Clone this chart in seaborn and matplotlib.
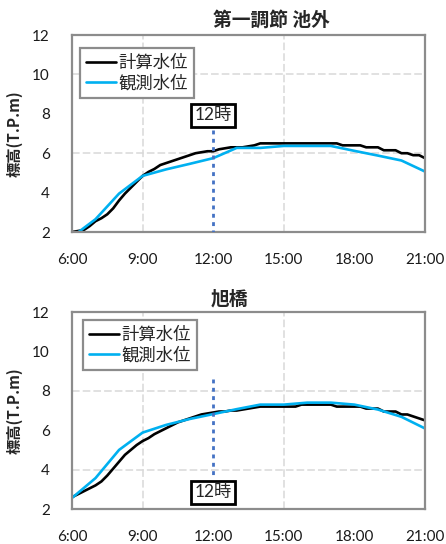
import numpy as np
import pandas as pd
import matplotlib.pyplot as plt
import seaborn as sns

# time axis (hours)
calc_hours = np.linspace(6, 21, 61)      # 15 min steps
obs_hours = np.arange(6, 22)             # hourly
tick_hours = [6, 9, 12, 15, 18, 21]
tick_labels = ['6:00', '9:00', '12:00', '15:00', '18:00', '21:00']

# 第一調節 池外
calc_ike = [2.0, 2.05, 2.1, 2.3, 2.55, 2.7, 2.9, 3.2, 3.6, 3.95, 4.25, 4.55,
            4.85, 5.05, 5.2, 5.4, 5.5, 5.6, 5.7, 5.8, 5.9, 6.0, 6.05, 6.1,
            6.1, 6.2, 6.25, 6.3, 6.3, 6.3, 6.35, 6.4,
            6.5, 6.5, 6.5, 6.5, 6.5, 6.5, 6.5, 6.5, 6.5, 6.5, 6.5, 6.5, 6.5, 6.5,
            6.4, 6.4, 6.4, 6.4, 6.3, 6.3, 6.3, 6.15, 6.15, 6.15, 6.0, 6.0,
            5.9, 5.9, 5.75]
obs_ike = [1.75, 2.65, 3.95, 4.85, 5.18, 5.46, 5.75, 6.27, 6.27, 6.37, 6.37,
           6.37, 6.12, 5.88, 5.63, 5.07]

# 旭橋
calc_asahi = [2.6, 2.75, 2.9, 3.05, 3.2, 3.4, 3.7, 4.05, 4.4, 4.75, 5.0, 5.25,
              5.45, 5.6, 5.8, 5.95, 6.1, 6.25, 6.4, 6.5, 6.6, 6.7, 6.8, 6.85,
              6.9, 6.95, 6.95, 7.0, 7.0, 7.05, 7.1, 7.15,
              7.2, 7.2, 7.2, 7.2, 7.2, 7.2, 7.2, 7.3, 7.3, 7.3, 7.3, 7.3, 7.3,
              7.2, 7.2, 7.2, 7.2, 7.2, 7.1, 7.1, 7.1, 6.95, 6.95, 6.95,
              6.8, 6.8, 6.7, 6.6, 6.5]
obs_asahi = [2.56, 3.57, 5.0, 5.88, 6.27, 6.57, 6.82, 7.07, 7.3, 7.3, 7.4,
             7.4, 7.3, 7.05, 6.68, 6.09]

# 12時 marker: (line from, line to, label y)
marker_hour = 12
marker_ike = (7.2, 2.0, 7.92)
marker_asahi = (8.6, 3.6, 2.84)

sns.set_style('white')
plt.rcParams['font.family'] = ['Lato', 'Noto Sans CJK JP', 'DejaVu Sans']

fig = plt.figure(figsize=(4.46, 5.44), dpi=100)
ax_top = fig.add_axes([0.1614, 0.5735, 0.7915, 0.3621])
ax_bot = fig.add_axes([0.1614, 0.0643, 0.7915, 0.3621])

panels = [
    (ax_top, '第一調節 池外', calc_ike, obs_ike, marker_ike, 0, 0.564, 1.076, (0.023, 0.934)),
    (ax_bot, '旭橋', calc_asahi, obs_asahi, marker_asahi, 1, 0.445, 1.066, (0.031, 0.959)),
]

for ax, title, calc, obs, marker, grid_odd, tx, ty, leg_pos in panels:
    df_calc = pd.DataFrame({'hour': calc_hours, 'level': calc})
    df_obs = pd.DataFrame({'hour': obs_hours, 'level': obs})
    sns.lineplot(data=df_calc, x='hour', y='level', ax=ax, color='black',
                 linewidth=1.9, label='計算水位')
    sns.lineplot(data=df_obs, x='hour', y='level', ax=ax, color='#00B0F0',
                 linewidth=1.9, label='観測水位')

    ax.set_xlim(6, 21)
    ax.set_ylim(2, 12)
    ax.set_xticks(tick_hours)
    ax.set_xticklabels(tick_labels)
    ax.set_yticks(range(2, 13, 2))
    ax.tick_params(length=0, labelsize=11, labelcolor='#1a1a1a')
    ax.tick_params(axis='y', pad=16)
    ax.tick_params(axis='x', pad=15)
    ax.set_xlabel('')
    ax.set_ylabel('標高(T.P.m)', fontsize=11, fontweight='bold',
                  family=['Noto Sans CJK JP', 'DejaVu Sans'])
    ax.yaxis.set_label_coords(-0.139, 0.5)

    # dashed grid, only every other line shows in the original
    ax.grid(True, color='#d9d9d9', linestyle=(0, (5, 2)), linewidth=1.1)
    for i, gl in enumerate(ax.get_xgridlines()):
        gl.set_visible(i % 2 == 1)
    for i, gl in enumerate(ax.get_ygridlines()):
        gl.set_visible(i % 2 == grid_odd)
    ax.set_axisbelow(True)

    for sp in ax.spines.values():
        sp.set_color('#8c8c8c')
        sp.set_linewidth(1.6)

    y_from, y_to, y_lab = marker
    ax.plot([marker_hour, marker_hour], [y_from, y_to], color='#4472C4',
            linewidth=2, linestyle=(0, (1.4, 1.6)), zorder=3)
    ax.text(marker_hour, y_lab, '12時', ha='center', va='center', fontsize=12.5,
            zorder=5,
            bbox=dict(boxstyle='square,pad=0.2', facecolor='white',
                      edgecolor='black', linewidth=2))

    ax.text(tx, ty, title, transform=ax.transAxes, ha='center', va='center',
            fontsize=13.5, fontweight='bold',
            family=['Noto Sans CJK JP', 'DejaVu Sans'])

    leg = ax.legend(loc='upper left', bbox_to_anchor=leg_pos, borderaxespad=0,
                    handlelength=1.7, handletextpad=0.15,
                    labelspacing=0.12, borderpad=0.35, fancybox=False,
                    framealpha=1, prop={'family': ['Noto Sans CJK JP'], 'size': 12.5})
    leg.get_frame().set_edgecolor('#8c8c8c')
    leg.get_frame().set_linewidth(1.6)

fig.savefig('out.png', dpi=100)
